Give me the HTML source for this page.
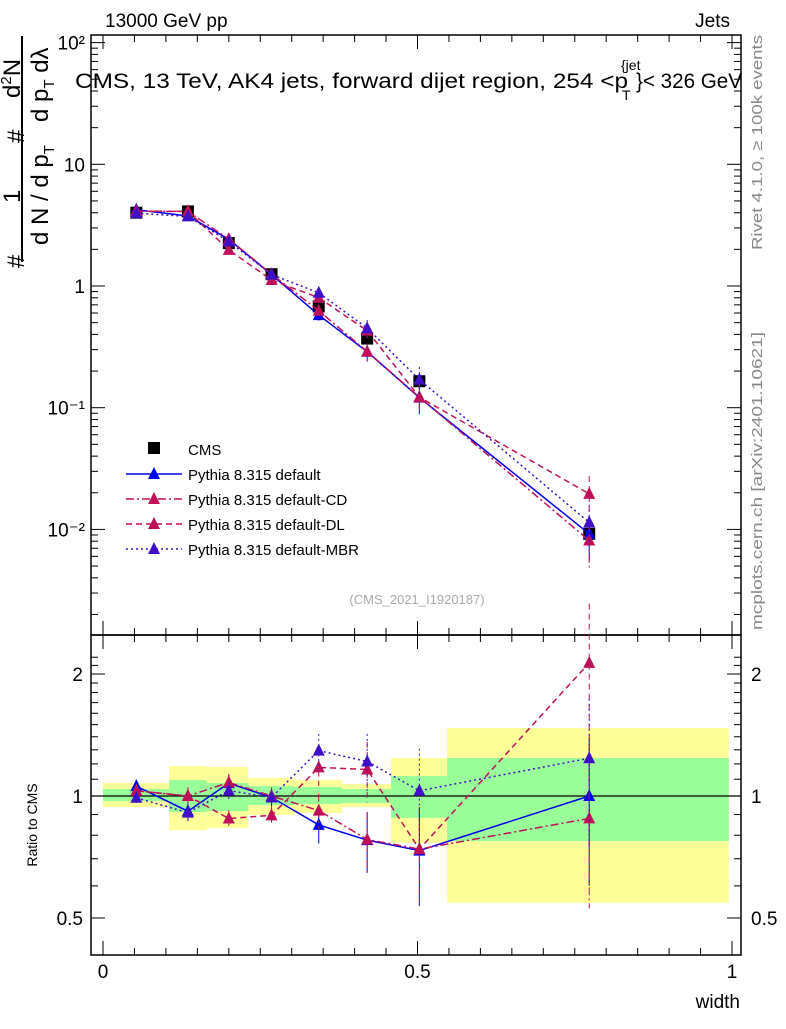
<!DOCTYPE html>
<html><head><meta charset="utf-8"><style>
body{margin:0;background:#fff;}
svg text{font-family:"Liberation Sans",sans-serif;}
</style></head><body>
<svg id="c" width="786" height="1024" xmlns="http://www.w3.org/2000/svg">
<text x="105" y="27" font-size="19">13000 GeV pp</text>
<text x="730" y="27" font-size="19" text-anchor="end">Jets</text>
<g font-size="21">
<text x="75" y="88" textLength="553" lengthAdjust="spacingAndGlyphs">CMS, 13 TeV, AK4 jets, forward dijet region, 254 &lt;p</text>
<text x="621" y="70" font-size="14">{jet</text>
<text x="622" y="100" font-size="14">T</text>
<text x="636" y="88" textLength="106" lengthAdjust="spacingAndGlyphs">}&lt; 326 GeV</text>
</g>
<text transform="translate(762,250) rotate(-90)" font-size="15" fill="#888" textLength="215" lengthAdjust="spacingAndGlyphs">Rivet 4.1.0, ≥ 100k events</text>
<text transform="translate(762,630) rotate(-90)" font-size="15" fill="#888" textLength="298" lengthAdjust="spacingAndGlyphs">mcplots.cern.ch [arXiv:2401.10621]</text>
<text x="417" y="604" font-size="13" fill="#aaa" text-anchor="middle">(CMS_2021_I1920187)</text>
<g font-size="24">
<line x1="22" y1="36" x2="22" y2="262" stroke="#000" stroke-width="2"/>
<text transform="translate(24,268) rotate(-90)">#</text>
<text transform="translate(20,203) rotate(-90)">1</text>
<text transform="translate(24,143) rotate(-90)">#</text>
<text transform="translate(20,98) rotate(-90)">d<tspan font-size="15" dy="-9">2</tspan><tspan dy="9">N</tspan></text>
<text transform="translate(48,245) rotate(-90)">d N / d p<tspan font-size="15" dy="6">T</tspan></text>
<text transform="translate(48,122) rotate(-90)">d p<tspan font-size="15" dy="6">T</tspan><tspan dy="-6"> d</tspan>λ</text>
</g>
<text transform="translate(37,825) rotate(-90)" font-size="14" text-anchor="middle">Ratio to CMS</text>
<text x="740" y="1008" font-size="19" text-anchor="end">width</text>
</svg>
<script>
const binEdges=[0,0.105,0.165,0.231,0.305,0.380,0.458,0.547,0.995];
const xVals=[0.053,0.135,0.2,0.268,0.343,0.42,0.503,0.773];
const cms=[4.0,4.1,2.25,1.25,0.68,0.37,0.165,0.0092];
const cmsErr=[0.03,0.05,0.05,0.04,0.05,0.04,0.1,0.2];
const mDefault=[4.23,3.76,2.42,1.24,0.577,0.288,0.121,0.0092];
const mCD=[4.12,4.1,2.43,1.25,0.626,0.289,0.122,0.0081];
const mDL=[4.12,4.1,1.98,1.12,0.80,0.43,0.122,0.0196];
const mMBR=[3.96,3.73,2.32,1.24,0.88,0.45,0.17,0.0114];
const modelErr=[0.03,0.05,0.05,0.05,0.1,0.17,0.27,0.4];
const yellowLo=[0.939,0.824,0.834,0.898,0.908,0.939,0.766,0.545];
const yellowHi=[1.077,1.186,1.179,1.108,1.095,1.07,1.241,1.471];
const greenLo=[0.972,0.913,0.918,0.95,0.956,0.961,0.883,0.774];
const greenHi=[1.04,1.095,1.077,1.058,1.052,1.04,1.12,1.241];
const xTicks=[0,0.5,1];
const yTicks=[0.01,0.1,1,10,100];
const yTickLabels=["10⁻²","10⁻¹","1","10","10²"];
const rTicks=[0.5,1,2];

const S=document.getElementById('c'),NS='http://www.w3.org/2000/svg';
const L=91,R=741,T=35,MB=635,RB=955;
const X=v=>103+629*v;
const Y=v=>286-121.7*Math.log10(v);
const RY=r=>796-122*Math.log2(r);
function el(t,a,p){const e=document.createElementNS(NS,t);for(const k in a)e.setAttribute(k,a[k]);(p||S).appendChild(e);return e;}

const bands=el('g',{});


for(let i=0;i<binEdges.length-1;i++){
 const y=el('rect',{x:X(binEdges[i]),width:X(binEdges[i+1])-X(binEdges[i]),y:RY(yellowHi[i]),height:RY(yellowLo[i])-RY(yellowHi[i]),fill:'#ffff99'},bands);
 
 
 const g=el('rect',{x:X(binEdges[i]),width:X(binEdges[i+1])-X(binEdges[i]),y:RY(greenHi[i]),height:RY(greenLo[i])-RY(greenHi[i]),fill:'#99ff99'},bands);
 
 
}
const ref=el('line',{x1:L,x2:R,y1:RY(1),y2:RY(1),stroke:'#000','stroke-width':1.3});



const f1=el('rect',{x:L,y:T,width:R-L,height:MB-T,fill:'none',stroke:'#000','stroke-width':1.5});


const f2=el('rect',{x:L,y:MB,width:R-L,height:RB-MB,fill:'none',stroke:'#000','stroke-width':1.5});



for(let d=-3;d<=2;d++)for(let m=1;m<10;m++){
 const v=m*Math.pow(10,d),y=Y(v);if(y<T||y>MB)continue;
 const len=m==1?14:7;
 el('line',{x1:L,x2:L+len,y1:y,y2:y,stroke:'#000'});
 el('line',{x1:R,x2:R-len,y1:y,y2:y,stroke:'#000'});
}
yTicks.forEach((v,i)=>{const t=el('text',{x:L-6,y:Y(v)+7,'font-size':19,'text-anchor':'end'});t.textContent=yTickLabels[i];
 
 });
for(let r=0.4;r<=2.3;r+=0.1){const y=RY(r);if(y<MB||y>RB)continue;
 const major=[0.5,1,2].some(q=>Math.abs(q-r)<1e-6);const len=major?14:7;
 el('line',{x1:L,x2:L+len,y1:y,y2:y,stroke:'#000'});el('line',{x1:R,x2:R-len,y1:y,y2:y,stroke:'#000'});}
rTicks.forEach(v=>{const lbl=String(v);
 const a=el('text',{x:L-8,y:RY(v)+7,'font-size':19,'text-anchor':'end'});a.textContent=lbl;
 
 
 const b=el('text',{x:R+10,y:RY(v)+7,'font-size':19});b.textContent=lbl;
 
 });
for(let i=0;i<=20;i++){const v=i*0.05,x=X(v);const len=i%10==0?14:7;
 el('line',{x1:x,x2:x,y1:RB,y2:RB-len,stroke:'#000'});el('line',{x1:x,x2:x,y1:MB,y2:MB-len,stroke:'#000'});
 el('line',{x1:x,x2:x,y1:T,y2:T+len,stroke:'#000'});el('line',{x1:x,x2:x,y1:MB,y2:MB+len,stroke:'#000'});}
xTicks.forEach(v=>{const t=el('text',{x:X(v),y:978,'font-size':19,'text-anchor':'middle'});t.textContent=String(v);
 
 });

function tri(x,y,c,p){return el('polygon',{points:`${x},${y-7} ${x-6},${y+5} ${x+6},${y+5}`,fill:c},p);}
const series=[
 {name:'default',vals:mDefault,color:'#0000ee',dash:'none',label:'Pythia 8.315 default'},
 {name:'default-cd',vals:mCD,color:'#c0105a',dash:'8,3,2,3',label:'Pythia 8.315 default-CD'},
 {name:'default-dl',vals:mDL,color:'#c0105a',dash:'6,4',label:'Pythia 8.315 default-DL'},
 {name:'default-mbr',vals:mMBR,color:'#4010c8',dash:'2,3',label:'Pythia 8.315 default-MBR'}];

const cg=el('g',{});


cms.forEach((v,i)=>{const x=X(xVals[i]);
 el('line',{x1:x,x2:x,y1:Y(v*(1+cmsErr[i])),y2:Y(v*(1-cmsErr[i])),stroke:'#000'},cg);
 const r=el('rect',{x:x-6,y:Y(v)-6,width:12,height:12,fill:'#000'},cg);
 
 });

series.forEach(s=>{
 const g=el('g',{});
 
 
 const pts=s.vals.map((v,i)=>X(xVals[i])+','+Y(v)).join(' ');
 el('polyline',{points:pts,fill:'none',stroke:s.color,'stroke-width':1.5,'stroke-dasharray':s.dash},g);
 const rp=s.vals.map((v,i)=>X(xVals[i])+','+RY(v/cms[i])).join(' ');
 el('polyline',{points:rp,fill:'none',stroke:s.color,'stroke-width':1.5,'stroke-dasharray':s.dash},g);
 s.vals.forEach((v,i)=>{const x=X(xVals[i]),e=modelErr[i];const r=v/cms[i];
  el('line',{x1:x,x2:x,y1:Y(v*(1+e)),y2:Y(v*(1-e)),stroke:s.color,'stroke-dasharray':s.dash},g);
  el('line',{x1:x,x2:x,y1:RY(r*(1+e)),y2:RY(r*(1-e)),stroke:s.color,'stroke-dasharray':s.dash},g);
  const a=tri(x,Y(v),s.color,g);
  
  
  const b=tri(x,RY(r),s.color,g);
  
  });
});

const lg=el('g',{});


el('rect',{x:148,y:442,width:12,height:12,fill:'#000'},lg);
const lt=el('text',{x:188,y:455,'font-size':15},lg);lt.textContent='CMS';
series.forEach((s,i)=>{const y=474+i*25;
 const e=el('g',{},lg);
 
 
 el('line',{x1:126,x2:182,y1:y,y2:y,stroke:s.color,'stroke-width':1.5,'stroke-dasharray':s.dash},e);
 tri(154,y,s.color,e);
 const t=el('text',{x:188,y:y+6,'font-size':15},e);t.textContent=s.label;});
</script>
</body></html>
